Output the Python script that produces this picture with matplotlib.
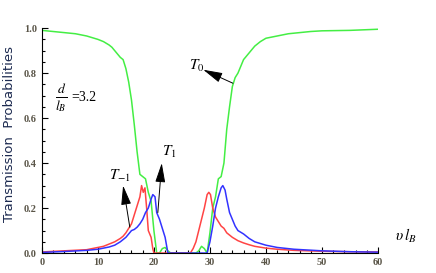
import numpy as np
import matplotlib.pyplot as plt
from matplotlib.ticker import MultipleLocator

# transmission probabilities
x0 = [0, 2, 4, 6, 8, 10, 11, 12, 12.5, 13, 13.5, 14, 14.5, 15, 15.5, 16, 16.5, 17, 17.5, 18,
      18.5, 19, 19.5, 20, 20.5, 21, 21.5, 22, 22.5, 23, 24, 26, 27.5, 28, 28.5, 29, 29.5, 30,
      30.5, 31, 31.5, 32, 32.5, 33, 33.5, 34, 34.5, 35, 35.5, 36, 37, 38, 39, 40, 42, 44, 46,
      48, 50, 55, 60]
T0 = [0.99, 0.985, 0.98, 0.975, 0.965, 0.95, 0.94, 0.925, 0.915, 0.90, 0.885, 0.87, 0.86, 0.82,
      0.76, 0.68, 0.57, 0.45, 0.35, 0.34, 0.33, 0.27, 0.23, 0.10, 0.0, 0.0, 0.02, 0.025, 0.01,
      0.0, 0.0, 0.0, 0.0, 0.01, 0.03, 0.02, 0.0, 0.09, 0.2, 0.25, 0.33, 0.34, 0.40, 0.55, 0.65,
      0.74, 0.78, 0.8, 0.83, 0.86, 0.89, 0.92, 0.94, 0.955, 0.965, 0.975, 0.98, 0.985, 0.988,
      0.99, 0.995]

xm = [0, 4, 8, 10, 11, 12, 13, 14, 14.5, 15, 15.5, 16, 16.5, 17, 17.5, 17.8, 18.1, 18.4, 18.7,
      19, 19.5, 19.8, 20, 26, 26.5, 27, 27.5, 28, 28.5, 29, 29.5, 29.8, 30.1, 30.5, 31, 31.5,
      32, 32.5, 33, 34, 35, 36, 37, 38, 40, 42, 45, 50, 55, 60]
Tm1 = [0.005, 0.01, 0.015, 0.025, 0.03, 0.04, 0.05, 0.065, 0.075, 0.09, 0.11, 0.13, 0.17, 0.21,
       0.25, 0.30, 0.27, 0.29, 0.20, 0.10, 0.07, 0.02, 0.0, 0.0, 0.0, 0.02, 0.05, 0.10, 0.15,
       0.20, 0.26, 0.27, 0.26, 0.20, 0.16, 0.14, 0.12, 0.11, 0.09, 0.07, 0.055, 0.045, 0.037,
       0.03, 0.022, 0.017, 0.012, 0.008, 0.006, 0.005]

xp = [0, 4, 8, 10, 12, 13, 14, 15, 15.5, 16, 16.5, 17, 17.5, 18, 18.5, 19, 19.5, 19.8, 20.2,
      20.5, 21, 21.5, 22, 22.5, 23, 29.5, 30, 30.5, 31, 31.5, 32, 32.3, 32.7, 33, 33.5, 34,
      34.5, 35, 36, 37, 38, 40, 42, 45, 50, 55, 60]
T1 = [0.003, 0.007, 0.012, 0.017, 0.027, 0.035, 0.05, 0.07, 0.085, 0.10, 0.105, 0.115, 0.13,
      0.15, 0.18, 0.20, 0.24, 0.26, 0.25, 0.18, 0.15, 0.11, 0.07, 0.0, 0.0, 0.0, 0.05, 0.12,
      0.2, 0.25, 0.29, 0.30, 0.28, 0.24, 0.18, 0.15, 0.12, 0.1, 0.085, 0.065, 0.05, 0.035,
      0.025, 0.017, 0.01, 0.006, 0.004]

plt.rcParams['mathtext.fontset'] = 'stix'

fig = plt.figure(figsize=(4.36, 2.73), dpi=100)
ax = fig.add_axes([0.096, 0.073, 0.771, 0.824])

ax.plot(x0, T0, color='#44ee44', lw=1.1)
ax.plot(xm, Tm1, color='#ff4444', lw=1.1)
ax.plot(xp, T1, color='#3333ff', lw=1.1)

ax.set_xlim(0, 60)
ax.set_ylim(0, 1.0)
ax.spines['top'].set_visible(False)
ax.spines['right'].set_visible(False)
ax.xaxis.set_major_locator(MultipleLocator(10))
ax.xaxis.set_minor_locator(MultipleLocator(2))
ax.yaxis.set_major_locator(MultipleLocator(0.2))
ax.yaxis.set_minor_locator(MultipleLocator(0.05))
ax.yaxis.set_major_formatter(plt.FormatStrFormatter('%.1f'))
ax.tick_params(which='both', direction='in', width=0.8)
ax.tick_params(which='major', length=4, labelsize=7.5, labelcolor='#5a5548')
ax.tick_params(which='minor', length=2)
for lab in ax.get_xticklabels() + ax.get_yticklabels():
    lab.set_family('Liberation Serif')
    lab.set_weight('bold')

fig.text(0.022, 0.51, 'Transmission  Probabilities', fontsize=9.5, color='#1c2a50',
         rotation=90, ha='center', va='center')

ax.text(2.3, 0.69, r'$\frac{d}{l_B}$', fontsize=14, va='center')
ax.text(5.3, 0.69, '=3.2', fontsize=10, family='Liberation Serif', va='center')
ax.text(63, 0.055, r'$\upsilon\, l_B$', fontsize=11, clip_on=False)

arrow = dict(arrowstyle='-|>,head_length=0.85,head_width=0.22', color='k', lw=0.7,
             mutation_scale=14, shrinkA=0, shrinkB=0)
ax.annotate('', xy=(28.8, 0.815), xytext=(34.1, 0.755), arrowprops=arrow)
ax.text(27.6, 0.83, r'$T_0$', fontsize=11, ha='center', va='center')
ax.annotate('', xy=(21.4, 0.40), xytext=(20.7, 0.18), arrowprops=arrow)
ax.text(22.8, 0.45, r'$T_1$', fontsize=11, ha='center', va='center')
ax.annotate('', xy=(14.5, 0.30), xytext=(15.7, 0.115), arrowprops=arrow)
ax.text(13.9, 0.345, r'$T_{-1}$', fontsize=11, ha='center', va='center')

fig.savefig('out.png', dpi=100)
